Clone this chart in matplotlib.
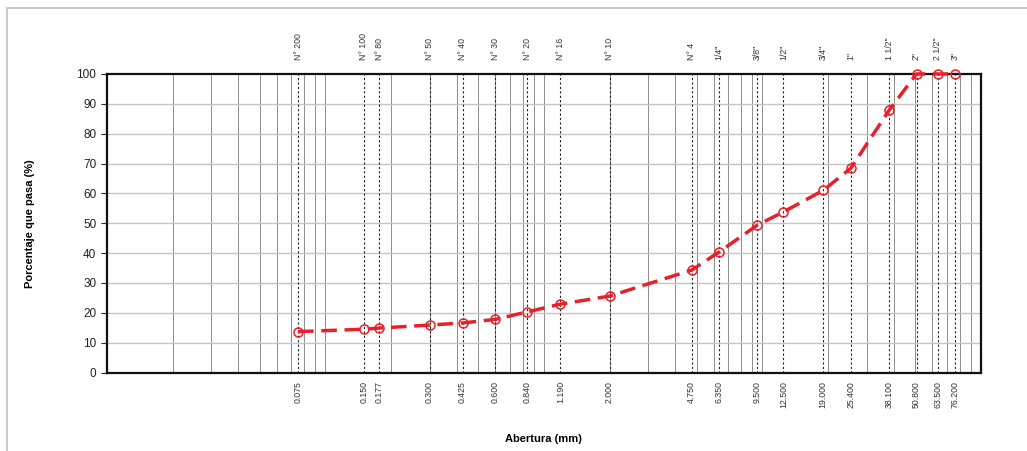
import matplotlib
matplotlib.use('Agg')
import matplotlib.pyplot as plt
from matplotlib.patches import Rectangle
import numpy as np

plt.rcParams['font.family'] = ['Liberation Sans', 'DejaVu Sans']

# curva granulometrica
aberturas = [0.075, 0.150, 0.177, 0.300, 0.425, 0.600, 0.840, 1.190, 2.000,
             4.750, 6.350, 9.500, 12.500, 19.000, 25.400, 38.100, 50.800, 63.500, 76.200]
tamices = ['N° 200', 'N° 100', 'N° 80', 'N° 50', 'N° 40', 'N° 30', 'N° 20', 'N° 16', 'N° 10',
           'N° 4', '1/4"', '3/8"', '1/2"', '3/4"', '1"', '1 1/2"', '2"', '2 1/2"', '3"']
etiquetas = ['0.075', '0.150', '0.177', '0.300', '0.425', '0.600', '0.840', '1.190', '2.000',
             '4.750', '6.350', '9.500', '12.500', '19.000', '25.400', '38.100', '50.800', '63.500', '76.200']
pasa = [13.7, 14.5, 14.9, 15.9, 16.6, 17.8, 20.3, 22.9, 25.6,
        34.3, 40.4, 49.4, 53.8, 61.0, 68.4, 87.9, 100, 100, 100]

fig = plt.figure(figsize=(10.27, 4.51), dpi=100)
ax = fig.add_axes([0.104, 0.174, 0.851, 0.662])

# marco exterior
fig.patches.append(Rectangle((0.007, -0.1), 1.1, 1.082, transform=fig.transFigure,
                             fill=False, ec='#c8c8c8', lw=1.5))

ax.set_xscale('log')
ax.set_xlim(0.01, 100)
ax.set_ylim(0, 100)

# grilla logaritmica
for dec in [0.01, 0.1, 1, 10]:
    for k in range(2, 11):
        ax.axvline(dec * k, color='#8c8c8c', lw=0.7, zorder=1)
for yv in range(10, 100, 10):
    ax.axhline(yv, color='#c4c4c4', lw=1.0, zorder=1)

# lineas de tamices
for a in aberturas:
    ax.axvline(a, color='#222222', lw=0.8, ls=(0, (2, 2)), zorder=2)

ax.plot(aberturas, pasa, color='#e8202a', lw=2.5, ls=(0, (4.5, 2.2)),
        marker='o', ms=6.5, mfc='none', mec='#e8202a', mew=1.1, zorder=5, clip_on=False)

ax.set_yticks(np.arange(0, 101, 10))
ax.tick_params(axis='y', labelsize=8.5, length=4, width=0.8, colors='#222222')

ax.set_xticks(aberturas)
ax.set_xticklabels(etiquetas, rotation=90, fontsize=6.3, color='#333333')
ax.xaxis.set_minor_locator(matplotlib.ticker.NullLocator())
ax.tick_params(axis='x', length=0, pad=6)

top = ax.secondary_xaxis('top')
top.set_xticks(aberturas)
top.set_xticklabels(tamices, rotation=90, fontsize=6.3, color='#333333')
top.xaxis.set_minor_locator(matplotlib.ticker.NullLocator())
top.tick_params(axis='x', length=0, pad=10)
top.spines['top'].set_visible(False)

for s in ax.spines.values():
    s.set_linewidth(1.6)
    s.set_color('#111111')

ax.set_xlabel('Abertura (mm)', fontsize=8, fontweight='bold', labelpad=19)
ax.set_ylabel('Porcentaje que pasa (%)', fontsize=8, fontweight='bold', labelpad=30)

fig.savefig('out.png', dpi=100)
